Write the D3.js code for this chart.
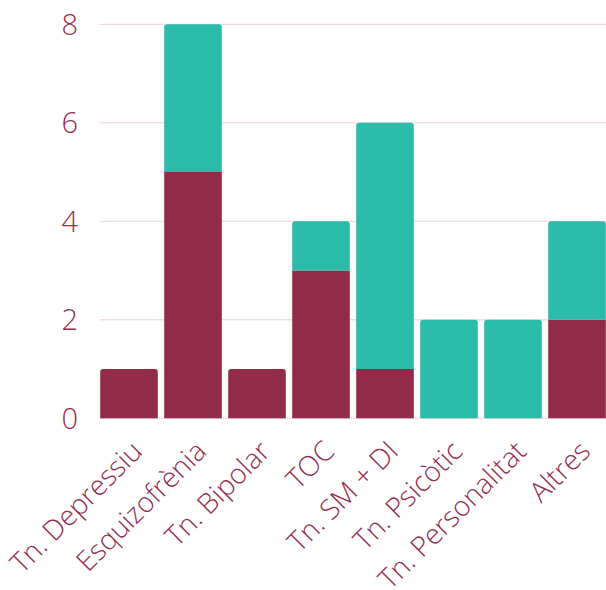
<!DOCTYPE html>
<html><head><meta charset="utf-8">
<script src="https://cdn.jsdelivr.net/npm/d3@7"></script>
<style>
html,body{margin:0;padding:0;background:#fff;}
svg text{font-family:"Open Sans",sans-serif;font-weight:300;fill:#93304f;}
</style></head>
<body>
<svg id="chart" width="606" height="590"></svg>
<script>
const categories = ["Tn. Depressiu","Esquizofrènia","Tn. Bipolar","TOC","Tn. SM + DI","Tn. Psicòtic","Tn. Personalitat","Altres"];
const seriesA = [1,5,1,3,1,0,0,2];   // maroon
const seriesB = [0,3,0,1,5,2,2,2];   // teal
const yTicks = [0,2,4,6,8];

const colors = ["#922b47","#2abba9"];
const svg = d3.select("#chart");
const x = d3.scaleBand().domain(categories).range([97,609]).paddingInner(0.1).paddingOuter(0.05);
const y = d3.scaleLinear().domain([0,8]).range([418.3,24.3]);

// gridlines
svg.append("g").selectAll("line").data(yTicks).join("line")
  .attr("x1",100).attr("x2",606)
  .attr("y1",d=>y(d)).attr("y2",d=>y(d))
  .attr("stroke","#ead0d9").attr("stroke-width",1);

// y tick labels
svg.append("g").selectAll("text").data(yTicks).join("text")
  .attr("x",78).attr("y",d=>y(d)).attr("dy","0.36em")
  .attr("text-anchor","end").style("font-size","29px").text(d=>d);

// stacked bars
const rows = categories.map((c,i)=>({cat:c,a:seriesA[i],b:seriesB[i]}));
const stack = d3.stack().keys(["a","b"])(rows);
const r = 3;
function barPath(x0,w,yTop,yBot,rounded){
  if(!rounded) return `M${x0},${yBot}V${yTop}H${x0+w}V${yBot}Z`;
  return `M${x0},${yBot}V${yTop+r}Q${x0},${yTop} ${x0+r},${yTop}H${x0+w-r}Q${x0+w},${yTop} ${x0+w},${yTop+r}V${yBot}Z`;
}
stack.forEach((layer,li)=>{
  svg.append("g").selectAll("path").data(layer.filter(d=>d[1]>d[0])).join("path")
    .attr("fill",colors[li])
    .attr("d",d=>{
      const total = d.data.a + d.data.b;
      return barPath(x(d.data.cat), x.bandwidth(), y(d[1]), y(d[0]), d[1]===total);
    });
});

// x labels
svg.append("g").selectAll("text").data(categories).join("text")
  .attr("transform",d=>`translate(${x(d)+x.bandwidth()/2+15},453) rotate(-45)`)
  .attr("text-anchor","end").style("font-size","28px").text(d=>d);
</script>
</body></html>
